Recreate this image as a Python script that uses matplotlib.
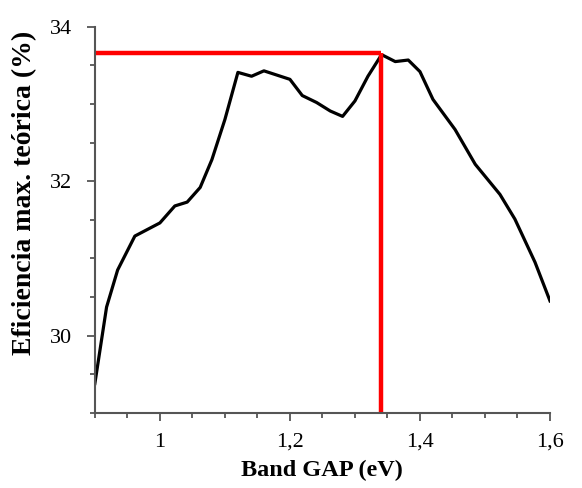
import matplotlib
matplotlib.use("Agg")
import matplotlib.pyplot as plt
from matplotlib.ticker import MultipleLocator, FuncFormatter

plt.rcParams["font.family"] = ["Liberation Serif", "DejaVu Serif"]

# curva de eficiencia máxima teórica vs band gap
band_gap = [0.90, 0.918, 0.935, 0.9615, 1.00, 1.023, 1.042, 1.062, 1.08, 1.10,
            1.12, 1.141, 1.16, 1.20, 1.219, 1.241, 1.262, 1.281, 1.30, 1.32,
            1.341, 1.362, 1.382, 1.40, 1.42, 1.454, 1.485, 1.523, 1.546, 1.577, 1.60]
eficiencia = [29.38, 30.37, 30.85, 31.29, 31.46, 31.68, 31.73, 31.92, 32.28, 32.80,
              33.41, 33.36, 33.43, 33.32, 33.11, 33.02, 32.91, 32.84, 33.04, 33.36,
              33.64, 33.55, 33.57, 33.42, 33.06, 32.67, 32.22, 31.83, 31.51, 30.95, 30.45]
gap_opt = 1.34
ef_max = 33.66

fig = plt.figure(figsize=(5.82, 4.88), dpi=100)
ax = fig.add_axes([0.163, 0.154, 0.782, 0.791])

ax.plot(band_gap, eficiencia, color="black", lw=2.3, solid_joinstyle="round")
ax.plot([0.9, gap_opt], [ef_max, ef_max], color="#ff0000", lw=3.2, solid_capstyle="butt", clip_on=False)
ax.plot([gap_opt, gap_opt], [29, ef_max], color="#ff0000", lw=3.2, solid_capstyle="butt", clip_on=False)

ax.set_xlim(0.9, 1.6)
ax.set_ylim(29, 34)
ax.xaxis.set_major_locator(MultipleLocator(0.2))
ax.xaxis.set_minor_locator(MultipleLocator(0.05))
ax.yaxis.set_major_locator(MultipleLocator(2))
ax.yaxis.set_minor_locator(MultipleLocator(0.5))
ax.xaxis.set_major_formatter(FuncFormatter(lambda v, p: f"{v:g}".replace(".", ",")))
ax.yaxis.set_major_formatter(FuncFormatter(lambda v, p: f"{v:g}"))

for s in ["top", "right"]:
    ax.spines[s].set_visible(False)
for s in ["left", "bottom"]:
    ax.spines[s].set_color("#555555")
    ax.spines[s].set_linewidth(1.5)
ax.tick_params(which="major", length=5.5, width=1.3, color="#555555", labelsize=16)
ax.tick_params(axis="y", which="major", pad=11)
ax.tick_params(axis="x", which="major", pad=9)
ax.tick_params(which="minor", length=3.5, width=1.3, color="#555555")

ax.set_xlabel("Band GAP (eV)", fontsize=17.5, fontweight="bold", labelpad=6)
ax.set_ylabel("Eficiencia max. teórica (%)", fontsize=20, fontweight="bold")
ax.yaxis.set_label_coords(-0.127, 0.57)

fig.savefig("out.png", dpi=100)
